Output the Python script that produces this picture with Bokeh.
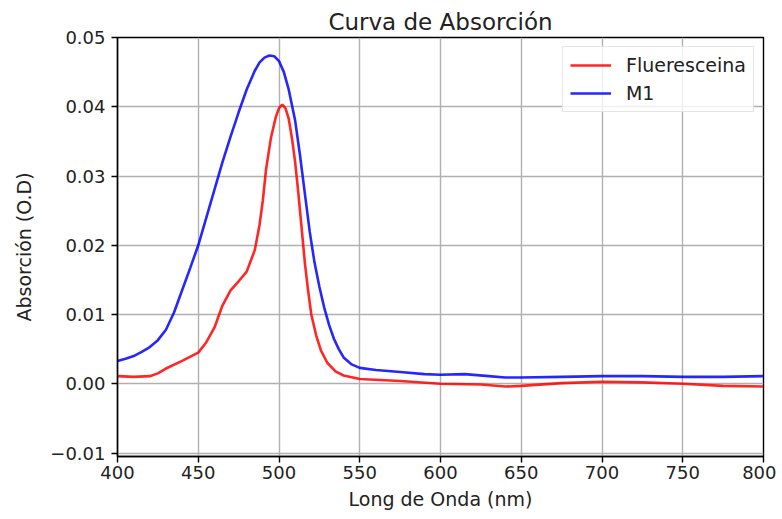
from bokeh.plotting import figure
from bokeh.models import FixedTicker, CustomJSTickFormatter, Range1d, Legend, LegendItem
from bokeh.embed import file_html
from bokeh.resources import INLINE

# Data
wl_m1 = [400, 405, 410, 415, 420, 425, 430, 435, 440, 445, 450, 455, 460, 465, 470, 475,
         480, 485, 488, 491, 494, 497, 500, 503, 506, 510, 513, 516, 519, 522, 525, 528,
         531, 534, 537, 540, 545, 550, 560, 575, 590, 600, 615, 630, 640, 650, 675, 700,
         725, 750, 775, 800]
abs_m1 = [0.0033, 0.0036, 0.0040, 0.0046, 0.0053, 0.0063, 0.0078, 0.0103, 0.0135, 0.0167,
          0.0200, 0.0240, 0.0280, 0.0320, 0.0357, 0.0392, 0.0425, 0.0452, 0.0464, 0.0471,
          0.0474, 0.0473, 0.0466, 0.0450, 0.0425, 0.0380, 0.0330, 0.0275, 0.0220, 0.0175,
          0.0140, 0.0110, 0.0085, 0.0065, 0.0050, 0.0038, 0.0028, 0.0023, 0.0020, 0.0017,
          0.0014, 0.0013, 0.0014, 0.0011, 0.0009, 0.0009, 0.0010, 0.0011, 0.0011, 0.0010,
          0.0010, 0.0011]

wl_fl = [400, 410, 420, 425, 430, 440, 450, 455, 460, 465, 470, 475, 480, 485, 488, 490,
         492, 495, 498, 500, 502, 504, 506, 508, 510, 512, 514, 516, 518, 520, 523, 526,
         530, 535, 540, 550, 575, 600, 625, 640, 650, 675, 700, 725, 750, 775, 800]
abs_fl = [0.0011, 0.0010, 0.0011, 0.0015, 0.0022, 0.0033, 0.0045, 0.0060, 0.0081, 0.0113,
          0.0135, 0.0148, 0.0162, 0.0193, 0.0230, 0.0265, 0.0310, 0.0355, 0.0385, 0.0398,
          0.0403, 0.0398, 0.0383, 0.0355, 0.0320, 0.0275, 0.0225, 0.0175, 0.0135, 0.0100,
          0.0070, 0.0048, 0.0030, 0.0018, 0.0012, 0.0007, 0.0004, 0.0000, -0.0001, -0.0004,
          -0.0003, 0.0001, 0.0003, 0.0002, 0.0000, -0.0003, -0.0004]

series_labels = ["Fluerescein" + "a", "M1"]
x_ticks = [400, 450, 500, 550, 600, 650, 700, 750, 800]
y_ticks = [-0.01, 0.0, 0.01, 0.02, 0.03, 0.04, 0.05]

FONT = "DejaVu Sans"

p = figure(width=776, height=519, output_backend="svg", toolbar_location=None,
           x_range=Range1d(400, 800), y_range=Range1d(-0.0105, 0.05),
           min_border_left=117, min_border_right=13, min_border_top=37, min_border_bottom=63)

p.title.text = "Curva de Absorción"
p.title.align = "center"
p.title.text_font = FONT
p.title.text_font_size = "23px"
p.title.text_font_style = "normal"
p.title.text_color = "#222222"
p.title.standoff = 6

p.outline_line_color = "black"
p.outline_line_width = 1.4
p.outline_line_alpha = 1.0

for ax in (p.xaxis[0], p.yaxis[0]):
    ax.axis_line_color = "black"
    ax.axis_line_width = 1.4
    ax.major_tick_line_color = "black"
    ax.major_tick_line_width = 1.4
    ax.major_tick_out = 6
    ax.major_tick_in = 0
    ax.minor_tick_line_color = None
    ax.major_label_text_font = FONT
    ax.major_label_text_font_size = "18px"
    ax.major_label_text_color = "#222222"
    ax.axis_label_text_font = FONT
    ax.axis_label_text_font_size = "19px"
    ax.axis_label_text_font_style = "normal"
    ax.axis_label_text_color = "#222222"

p.xaxis.ticker = FixedTicker(ticks=x_ticks)
p.yaxis.ticker = FixedTicker(ticks=y_ticks)
p.yaxis.formatter = CustomJSTickFormatter(code="""
    const v = Math.abs(tick) < 1e-12 ? 0 : tick;
    const s = Math.abs(v).toFixed(2);
    return v < 0 ? "\u2212" + s : s;
""")
p.xaxis.axis_label = "Long de Onda (nm)"
p.yaxis.axis_label = "Absorción (O.D)"
p.xaxis.major_label_standoff = 3
p.yaxis.major_label_standoff = 6
p.xaxis.axis_label_standoff = 6
p.yaxis.axis_label_standoff = 12

p.grid.grid_line_color = "#b0b0b0"
p.grid.grid_line_width = 1.4
p.grid.grid_line_alpha = 1.0

r_fl = p.line(wl_fl, abs_fl, line_color="#ff0000", line_width=2.6, line_alpha=0.85)
r_m1 = p.line(wl_m1, abs_m1, line_color="#0000ff", line_width=2.6, line_alpha=0.85)

legend = Legend(items=[LegendItem(label=series_labels[0], renderers=[r_fl]),
                       LegendItem(label=series_labels[1], renderers=[r_m1])],
                location="top_right")
legend.label_text_font = FONT
legend.label_text_font_size = "19px"
legend.label_text_color = "#222222"
legend.border_line_color = "#cccccc"
legend.border_line_width = 1.2
legend.background_fill_alpha = 0.8
legend.glyph_width = 41
legend.glyph_height = 22
legend.label_height = 22
legend.spacing = 6
legend.padding = 7
legend.margin = 9
legend.label_standoff = 15
p.add_layout(legend)

open("out.html", "w").write(file_html(p, INLINE))
